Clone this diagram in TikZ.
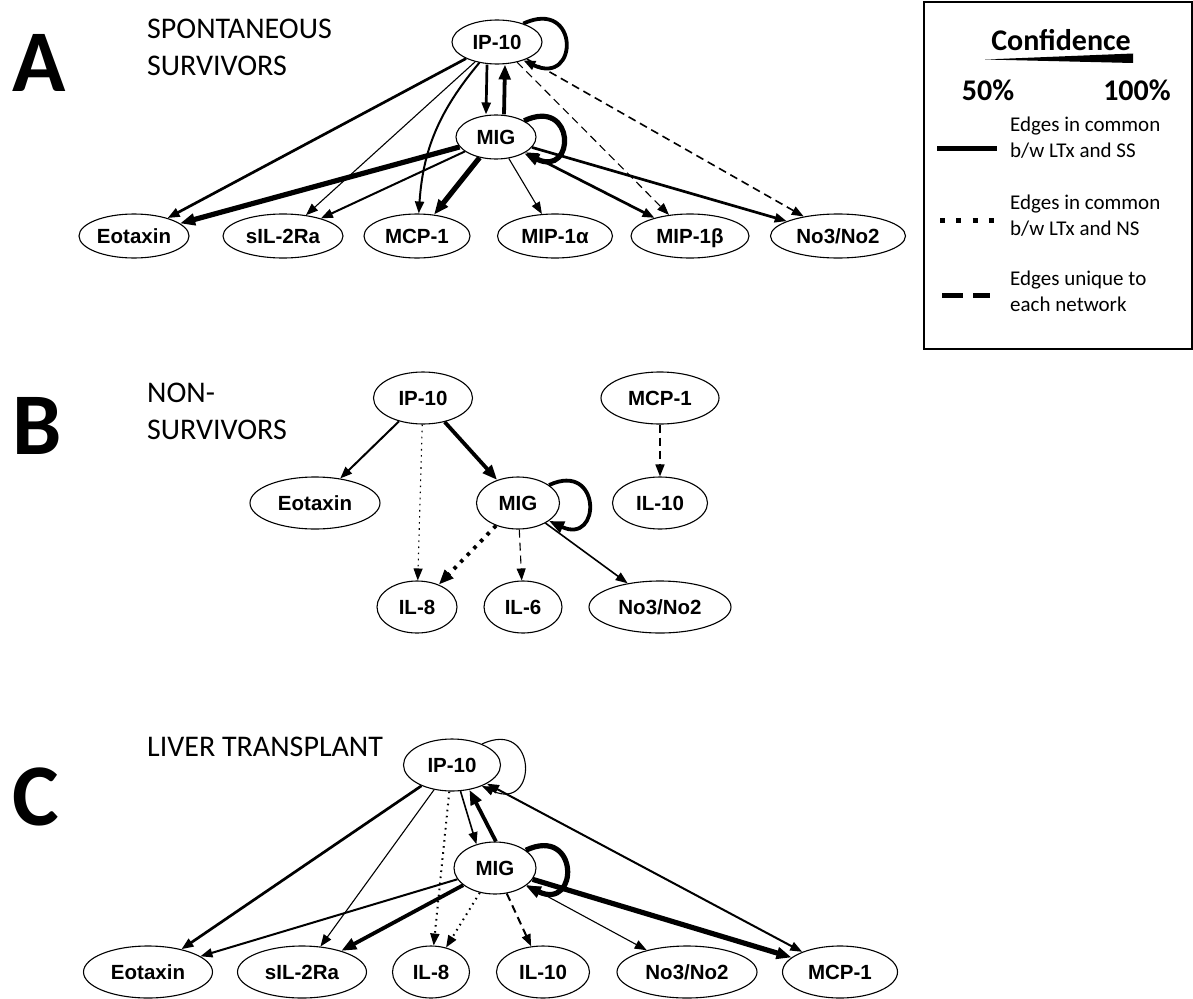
\documentclass[tikz,border=0pt]{standalone}
\usepackage{fontspec}
\setmainfont{Carlito}
\newfontfamily\labfont{Liberation Sans}
\usetikzlibrary{arrows.meta,shapes.geometric}

\begin{document}
\begin{tikzpicture}[
  x=1pt, y=1pt,
  cyt/.style={draw, ellipse, line width=1.1pt, inner sep=0pt,
              text height=14.5pt, text depth=0pt,
              font=\labfont\bfseries\fontsize{20.5}{24}\selectfont},
  rowa/.style={cyt, minimum height=44pt},
  rowb/.style={cyt, minimum height=52pt},
  title/.style={anchor=north west, inner sep=0pt, align=left,
                font=\fontsize{30}{37}\selectfont},
  panel/.style={anchor=north west, inner sep=0pt,
                font=\bfseries\fontsize{88}{90}\selectfont},
  legtext/.style={anchor=north west, inner sep=0pt, align=left,
                  font=\fontsize{21}{26}\selectfont},
  ar/.style={-{Triangle[length=12pt, width=9pt]}},
  bigar/.style={-{Triangle[length=15pt, width=11.5pt]}},
  ar2/.style={{Triangle[length=12pt, width=9pt]}-{Triangle[length=12pt, width=9pt]}},
  lw1/.style={line width=1.1pt},
  lw1b/.style={line width=1.6pt},
  lw2/.style={line width=2pt},
  lw3/.style={line width=2.7pt},
  lw4/.style={line width=3.8pt},
  lw5/.style={line width=5.2pt},
  dsh/.style={dash pattern=on 8pt off 5pt},
  dts/.style={dash pattern=on 1.6pt off 4.5pt},
  dtsbig/.style={dash pattern=on 3.5pt off 6pt},
]
\useasboundingbox (0,0) rectangle (1193,-998);

% ---------------- A: spontaneous survivors ----------------
\node[panel] (letA) at (12,-34) {A};
\node[title] (titA) at (147,-19) {SPONTANEOUS\\SURVIVORS};

\node[rowa, minimum width=90pt] (ipA) at (497,-42) {IP-10};
\node[rowa, minimum width=80pt] (migA) at (496,-137) {MIG};
\node[rowa, minimum width=110pt] (eotA) at (134,-236) {Eotaxin};
\node[rowa, minimum width=120pt] (silA) at (283,-236) {sIL-2Ra};
\node[rowa, minimum width=106pt] (mcpA) at (417,-236) {MCP-1};
\node[rowa, minimum width=115pt] (mipaA) at (555,-236) {MIP-1α};
\node[rowa, minimum width=118pt] (mipbA) at (690,-236) {MIP-1β};
\node[rowa, minimum width=135pt] (noA) at (838,-236) {No3/No2};

\draw[ar, lw4] (ipA.35) to[out=25, in=-25, min distance=62pt] (ipA.-35);
\draw[ar, lw3] ([xshift=-10pt]ipA.south) -- ([xshift=-10pt]migA.north);
\draw[bigar, lw4] ([xshift=8pt]migA.north) -- ([xshift=8pt]ipA.south);
\draw[ar, lw3] (ipA) -- (eotA);
\draw[ar, lw1] (ipA) -- (silA);
\draw[ar, lw2] (ipA) to[bend right=18] (mcpA);
\draw[ar, lw1, dsh] (ipA) -- (mipbA);
\draw[ar, lw1b, dsh] (ipA) -- (noA);
\draw[bigar, lw5] (migA.30) to[out=25, in=-25, min distance=57pt] (migA.-30);
\draw[bigar, lw5] (migA) -- (eotA);
\draw[ar, lw2] (migA) -- (silA);
\draw[bigar, lw5] (migA) -- (mcpA);
\draw[ar, lw1] (migA) -- (mipaA);
\draw[ar2, lw3] (migA) -- (mipbA);
\draw[ar, lw3] (migA) -- (noA);

% ---------------- B: non-survivors ----------------
\node[panel] (letB) at (12,-397) {B};
\node[title] (titB) at (147,-383) {NON-\\SURVIVORS};

\node[rowb, minimum width=99pt] (ipB) at (423,-398) {IP-10};
\node[rowb, minimum width=118pt] (mcpB) at (660,-398) {MCP-1};
\node[rowb, minimum width=130pt] (eotB) at (315,-503) {Eotaxin};
\node[rowb, minimum width=83pt] (migB) at (518,-503) {MIG};
\node[rowb, minimum width=95pt] (il10B) at (660,-503) {IL-10};
\node[rowb, minimum width=80pt] (il8B) at (417,-607) {IL-8};
\node[rowb, minimum width=78pt] (il6B) at (523,-607) {IL-6};
\node[rowb, minimum width=142pt] (noB) at (660,-607) {No3/No2};

\draw[ar, lw2] (ipB) -- (eotB);
\draw[ar, lw1, dts] (ipB) -- (il8B);
\draw[bigar, lw4] (ipB) -- (migB);
\draw[bigar, lw4] (migB.30) to[out=25, in=-25, min distance=58pt] (migB.-30);
\draw[bigar, lw4, dtsbig] (migB) -- (il8B);
\draw[ar, lw1, dsh] (migB) -- (il6B);
\draw[ar, lw1b] (migB) -- (noB);
\draw[ar, lw1b, dsh] (mcpB) -- (il10B);

% ---------------- C: liver transplant ----------------
\node[panel] (letC) at (12,-768) {C};
\node[title] (titC) at (147,-737) {LIVER TRANSPLANT};

\node[rowb, minimum width=97pt] (ipC) at (452,-765) {IP-10};
\node[rowb, minimum width=82pt] (migC) at (495,-868) {MIG};
\node[rowb, minimum width=129pt] (eotC) at (148,-972) {Eotaxin};
\node[rowb, minimum width=129pt] (silC) at (302,-972) {sIL-2Ra};
\node[rowb, minimum width=77pt] (il8C) at (431,-972) {IL-8};
\node[rowb, minimum width=93pt] (il10C) at (543,-972) {IL-10};
\node[rowb, minimum width=140pt] (noC) at (687,-972) {No3/No2};
\node[rowb, minimum width=115pt] (mcpC) at (840,-972) {MCP-1};

\draw[ar, lw1] (ipC.35) to[out=25, in=-25, min distance=62pt] (ipC.-35);
\draw[ar, lw3] (ipC) -- (eotC);
\draw[ar, lw1] (ipC) -- (silC);
\draw[ar, lw2, dts] (ipC) -- (il8C);
\draw[ar, lw1b] (ipC.-72) -- (migC.128);
\draw[bigar, lw4] (migC.88) -- (ipC.-55);
\draw[ar2, lw2] (ipC) -- (mcpC);
\draw[bigar, lw5] (migC.30) to[out=25, in=-25, min distance=59pt] (migC.-30);
\draw[ar, lw2] (migC) -- (eotC);
\draw[bigar, lw4] (migC) -- (silC);
\draw[ar, lw2, dts] (migC) -- (il8C);
\draw[ar, lw2, dsh] (migC) -- (il10C);
\draw[ar2, lw1] (migC) -- (noC);
\draw[bigar, lw5] (migC) -- (mcpC);

% ---------------- legend ----------------
\node[draw, line width=1.8pt, anchor=north west, inner sep=0pt,
      minimum width=268pt, minimum height=347pt] (legend) at (923,-1) {};
\node[font=\bfseries\fontsize{30}{36}\selectfont] (conf) at (1061,-40) {Confidence};
\fill (985,-59.5) -- (1133,-53.5) -- (1133,-63) -- cycle;
\node[font=\bfseries\fontsize{30}{36}\selectfont] (lo) at (988,-90) {50\%};
\node[font=\bfseries\fontsize{30}{36}\selectfont] (hi) at (1137,-90) {100\%};

\draw[line width=5pt] (937,-148) -- (997,-148);
\node[legtext] (legss) at (1010,-117) {Edges in common\\b/w LTx and SS};
\draw[line width=5pt, dash pattern=on 5pt off 11.3pt] (940,-220) -- (995,-220);
\node[legtext] (legns) at (1010,-195) {Edges in common\\b/w LTx and NS};
\draw[line width=5pt, dash pattern=on 21pt off 10pt] (942,-295) -- (990,-295);
\node[legtext] (leguq) at (1010,-271) {Edges unique to\\each network};
\end{tikzpicture}
\end{document}
